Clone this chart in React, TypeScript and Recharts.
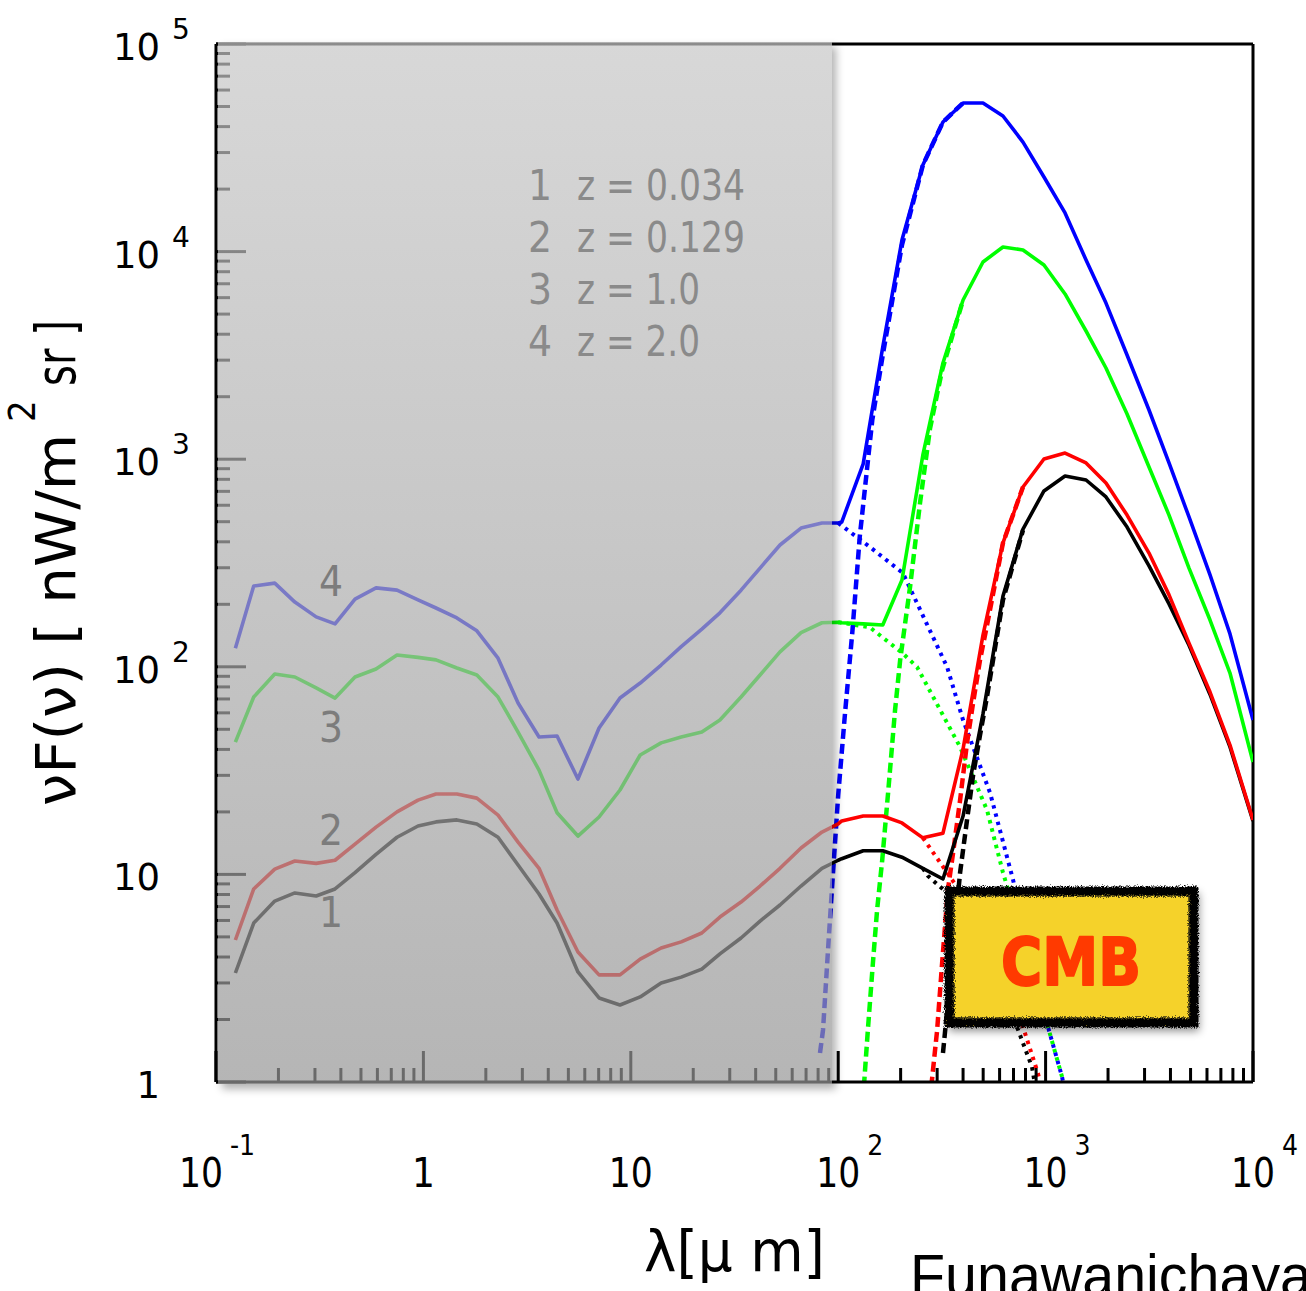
import { Line, LineChart, ReferenceLine, XAxis, YAxis } from "recharts";

// wavelength grids (micron)
const LAMBDA_OPT = [
  0.124, 0.152, 0.192, 0.24, 0.304, 0.375, 0.468, 0.591, 0.746, 0.942, 1.15, 1.45, 1.81, 2.29, 2.86, 3.61,
  4.41, 5.56, 7.03, 8.87, 11.1, 14.0, 17.5, 22.0, 26.9, 34.0, 42.0, 52.4, 66.2, 83.5, 100,
];
const LAMBDA_FIR = [
  104, 132, 164, 203, 256, 320, 400, 499, 623, 778, 982, 1241, 1567, 1955, 2470, 3152, 3936, 4914, 6205, 7745,
  10000,
];

// total EBL, nW/m^2/sr
const Z4_OPT = [
  123, 245, 253, 205, 174, 161, 212, 240, 234, 210, 192, 172, 149, 110, 66.9, 45.9, 46.4, 28.8, 50.7, 70.7, 83.5,
  102, 125, 152, 182, 234, 299, 386, 466, 493, 493,
];
const Z4_FIR = [
  498, 950, 3470, 11370, 26100, 42100, 52000, 52000, 45000, 33700, 22870, 15350, 9110, 5650, 3177, 1726, 959,
  527, 277, 144, 55.4,
];
const Z3_OPT = [
  43.4, 71.5, 92.3, 89.3, 79.1, 70.7, 89.3, 97.6, 114, 111, 108, 98.7, 91.3, 71.5, 48.5, 31.8, 19.8, 15.3, 18.9,
  25.5, 37.6, 43.0, 45.9, 48.5, 55.4, 71.5, 91.3, 118, 146, 163, 164,
];
const Z3_FIR = [
  163, 161, 159, 262, 1048, 2907, 5847, 8910, 10530, 10180, 8620, 6250, 4145, 2750, 1651, 917, 538, 299, 168,
  93.3, 34.8,
];
const Z2_OPT = [
  4.83, 8.51, 10.6, 11.6, 11.3, 11.7, 14.0, 16.9, 20.0, 22.8, 24.4, 24.4, 23.3, 19.3, 14.3, 10.7, 6.74, 4.23,
  3.28, 3.28, 3.91, 4.42, 4.73, 5.22, 6.23, 7.36, 8.79, 10.7, 13.4, 16.0, 17.5,
];
const Z2_FIR = [
  18.1, 19.1, 19.1, 17.7, 15.0, 15.8, 40.2, 142, 395, 735, 1002, 1071, 959, 768, 538, 353, 222, 130, 75.6, 42.0,
  18.3,
];
const Z1_OPT = [
  3.35, 5.83, 7.44, 8.14, 7.87, 8.51, 10.2, 12.5, 15.1, 17.1, 17.9, 18.3, 17.5, 15.1, 11.1, 8.05, 5.83, 3.39,
  2.54, 2.35, 2.57, 3.0, 3.2, 3.5, 4.14, 4.94, 5.96, 7.12, 8.79, 10.7, 11.7,
];
const Z1_FIR = [
  11.9, 13.0, 13.0, 12.1, 10.7, 9.5, 19.1, 59.3, 219, 461, 703, 830, 794, 658, 471, 306, 201, 127, 73.6, 41.1,
  18.1,
];

// dust component (dashed)
const DUST_Z4_LAMBDA = [81.7, 84.5, 89.3, 94.4, 100, 108, 117, 127, 146, 164, 203, 256, 320, 400];
const DUST_Z4 = [1.38, 1.78, 4.32, 10.2, 24.1, 60.6, 147, 422, 1545, 3177, 10760, 26100, 42100, 52000];
const DUST_Z3_LAMBDA = [133, 139, 147, 154, 163, 174, 188, 199, 222, 248, 277, 317, 400];
const DUST_Z3 = [0.95, 1.78, 3.74, 6.74, 11.7, 24.7, 61.9, 108, 242, 615, 1400, 2690, 5847];
const DUST_Z2_LAMBDA = [281, 300, 317, 338, 358, 387, 418, 447, 483, 522, 623, 778];
const DUST_Z2 = [0.95, 1.78, 3.74, 8.41, 12.7, 22.8, 43.0, 66.9, 108, 159, 395, 735];
const DUST_Z1_LAMBDA = [320, 327, 387, 418, 447, 483, 522, 623, 778];
const DUST_Z1 = [1.38, 1.72, 10.2, 18.3, 30, 47, 72, 210, 455];

// stellar component (dotted)
const STARS_Z4_LAMBDA = [100, 142, 205, 262, 335, 400, 540, 697, 841, 1027, 1200, 1240];
const STARS_Z4 = [493, 378, 283, 168, 99.8, 55.4, 24.7, 9.4, 4.28, 1.84, 1.06, 0.9];
const STARS_Z3_LAMBDA = [100, 142, 205, 240, 387, 522, 623, 796, 1027, 1200, 1240];
const STARS_Z3 = [164, 155, 116, 99.8, 41.1, 20.4, 10.2, 4.5, 1.84, 1.06, 0.9];
const STARS_Z2_LAMBDA = [256, 320, 374, 500, 640, 778, 919, 960];
const STARS_Z2 = [15.0, 10.9, 8.7, 5.3, 3.2, 1.84, 1.1, 0.9];
const STARS_Z1_LAMBDA = [256, 271, 335, 480, 620, 728, 860, 900];
const STARS_Z1 = [10.7, 9.82, 8.14, 4.8, 2.8, 1.84, 1.18, 0.9];

const CURVE_IDS = ["1", "2", "3", "4"];
const REDSHIFTS = ["z = 0.034", "z = 0.129", "z = 1.0", "z = 2.0"];

const X_MAJOR = [0.1, 1, 10, 100, 1000, 10000];
const Y_MAJOR = [1, 10, 100, 1000, 10000, 100000];

const withMinors = (majors: number[]) => {
  const out: number[] = [];
  majors.forEach((m, i) => {
    out.push(m);
    if (i < majors.length - 1) for (let k = 2; k <= 9; k++) out.push(+(m * k).toPrecision(6));
  });
  return out;
};
const X_TICKS = withMinors(X_MAJOR);
const Y_TICKS = withMinors(Y_MAJOR);

const pts = (xs: number[], ys: number[]) => xs.map((lambda, i) => ({ lambda, v: ys[i] }));

const BLUE = "#0000ff";
const GREEN = "#00ff00";
const RED = "#ff0000";
const BLACK = "#000000";

const NARROW = "'Liberation Sans Narrow', 'DejaVu Sans Condensed', 'Roboto Condensed', sans-serif";
const PLOT_LEFT = 216;
const PLOT_BOTTOM = 1082;

const isMajor = (v: number) => Math.abs(Math.log10(v) - Math.round(Math.log10(v))) < 1e-6;

function XTick(props: any) {
  const { x, payload } = props;
  const v = payload.value as number;
  const major = isMajor(v);
  const exp = Math.round(Math.log10(v));
  const cx = exp === -1 ? x - 15 : x;
  return (
    <g>
      <line x1={x} x2={x} y1={PLOT_BOTTOM} y2={PLOT_BOTTOM - (major ? 31 : 14)} stroke="#000" strokeWidth={3} />
      {major && (
        <g fontFamily={NARROW} fill="#000">
          {exp === 0 ? (
            <text x={cx} y={1187} fontSize={40} textAnchor="middle">1</text>
          ) : (
            <text x={cx} y={1187} fontSize={40} textAnchor="middle" textLength={44} lengthAdjust="spacingAndGlyphs">
              10
            </text>
          )}
          {exp !== 0 && exp !== 1 && (
            <text x={cx + 29} y={1155} fontSize={28}>
              {String(exp)}
            </text>
          )}
        </g>
      )}
    </g>
  );
}

function YTick(props: any) {
  const { y, payload } = props;
  const v = payload.value as number;
  const major = isMajor(v);
  const exp = Math.round(Math.log10(v));
  return (
    <g>
      <line x1={PLOT_LEFT} x2={PLOT_LEFT + (major ? 30 : 14)} y1={y} y2={y} stroke="#000" strokeWidth={3} />
      {major && (
        <g fontFamily="'DejaVu Sans', sans-serif" fill="#000">
          <text x={160} y={y + 16} fontSize={37} textAnchor="end">
            {exp === 0 ? "1" : "10"}
          </text>
          {exp >= 2 && (
            <text x={172} y={y - 5} fontSize={28}>
              {String(exp)}
            </text>
          )}
        </g>
      )}
    </g>
  );
}

const solidSeries = [
  { id: "z1", color: BLACK, data: pts([...LAMBDA_OPT, ...LAMBDA_FIR], [...Z1_OPT, ...Z1_FIR]) },
  { id: "z2", color: RED, data: pts([...LAMBDA_OPT, ...LAMBDA_FIR], [...Z2_OPT, ...Z2_FIR]) },
  { id: "z3", color: GREEN, data: pts([...LAMBDA_OPT, ...LAMBDA_FIR], [...Z3_OPT, ...Z3_FIR]) },
  { id: "z4", color: BLUE, data: pts([...LAMBDA_OPT, ...LAMBDA_FIR], [...Z4_OPT, ...Z4_FIR]) },
];
const dustSeries = [
  { id: "d1", color: BLACK, data: pts(DUST_Z1_LAMBDA, DUST_Z1) },
  { id: "d2", color: RED, data: pts(DUST_Z2_LAMBDA, DUST_Z2) },
  { id: "d3", color: GREEN, data: pts(DUST_Z3_LAMBDA, DUST_Z3) },
  { id: "d4", color: BLUE, data: pts(DUST_Z4_LAMBDA, DUST_Z4) },
];
const starSeries = [
  { id: "s1", color: BLACK, data: pts(STARS_Z1_LAMBDA, STARS_Z1) },
  { id: "s2", color: RED, data: pts(STARS_Z2_LAMBDA, STARS_Z2) },
  { id: "s3", color: GREEN, data: pts(STARS_Z3_LAMBDA, STARS_Z3) },
  { id: "s4", color: BLUE, data: pts(STARS_Z4_LAMBDA, STARS_Z4) },
];

const CURVE_LABEL_Y = [927, 845, 742, 596];

export default function App() {
  return (
    <div style={{ position: "absolute", left: 0, top: 0, width: 1306, height: 1291, overflow: "hidden", background: "#fff" }}>
      <LineChart width={1306} height={1291} margin={{ top: 44, right: 53, bottom: 0, left: 0 }}>
        <XAxis
          dataKey="lambda"
          type="number"
          scale="log"
          domain={[0.1, 10000]}
          allowDataOverflow
          ticks={X_TICKS}
          interval={0}
          height={209}
          axisLine={{ stroke: "#000", strokeWidth: 3 }}
          tickLine={false}
          tick={XTick}
        />
        <YAxis
          type="number"
          scale="log"
          domain={[1, 100000]}
          allowDataOverflow
          ticks={Y_TICKS}
          interval={0}
          width={216}
          axisLine={{ stroke: "#000", strokeWidth: 3 }}
          tickLine={false}
          tick={YTick}
        />
        <ReferenceLine y={100000} stroke="#000" strokeWidth={3} />
        <ReferenceLine x={10000} stroke="#000" strokeWidth={3} />
        {starSeries.map((s) => (
          <Line
            key={s.id}
            data={s.data}
            dataKey="v"
            type="linear"
            stroke={s.color}
            strokeWidth={4}
            strokeDasharray="3.5 5"
            dot={false}
            activeDot={false}
            isAnimationActive={false}
          />
        ))}
        {dustSeries.map((s) => (
          <Line
            key={s.id}
            data={s.data}
            dataKey="v"
            type="linear"
            stroke={s.color}
            strokeWidth={4.5}
            strokeDasharray="10 5"
            dot={false}
            activeDot={false}
            isAnimationActive={false}
          />
        ))}
        {solidSeries.map((s) => (
          <Line
            key={s.id}
            data={s.data}
            dataKey="v"
            type="linear"
            stroke={s.color}
            strokeWidth={3.6}
            strokeLinejoin="round"
            dot={false}
            activeDot={false}
            isAnimationActive={false}
          />
        ))}
      </LineChart>

      {/* shaded band over the optical/NIR region */}
      <div
        style={{
          position: "absolute",
          left: 218,
          top: 42,
          width: 614,
          height: 1042,
          background: "linear-gradient(to bottom, rgba(199,199,199,0.7), rgba(150,150,150,0.7))",
          boxShadow: "4px 5px 8px rgba(0,0,0,0.3)",
        }}
      />

      <svg
        width={1306}
        height={1291}
        style={{ position: "absolute", left: 0, top: 0, pointerEvents: "none", overflow: "hidden" }}
      >
        <defs>
          <filter id="cmbShadow" x="-10%" y="-10%" width="130%" height="140%">
            <feDropShadow dx="3" dy="5" stdDeviation="4" floodColor="#000" floodOpacity="0.45" />
          </filter>
          <filter id="chalk" x="-5%" y="-8%" width="110%" height="116%">
            <feTurbulence type="fractalNoise" baseFrequency="0.9" numOctaves="2" seed="7" result="noise" />
            <feDisplacementMap in="SourceGraphic" in2="noise" scale="6" xChannelSelector="R" yChannelSelector="G" />
          </filter>
        </defs>

        {/* legend */}
        <g fontFamily={NARROW} fontSize={42} fill="#8a8a8a">
          {REDSHIFTS.map((z, i) => (
            <g key={z}>
              <text x={528} y={200 + i * 52}>{CURVE_IDS[i]}</text>
              <text x={577} y={200 + i * 52} textLength={i < 2 ? 168 : 123} lengthAdjust="spacingAndGlyphs">
                {z}
              </text>
            </g>
          ))}
        </g>

        {/* curve numbers */}
        <g fontFamily={NARROW} fontSize={42} fill="#7c7c7c" textAnchor="middle">
          {CURVE_IDS.map((c, i) => (
            <text key={c} x={331} y={CURVE_LABEL_Y[i]}>
              {c}
            </text>
          ))}
        </g>

        {/* y title */}
        <g transform="translate(75,806) rotate(-90)" fontFamily={NARROW} fill="#000">
          <text x={0} y={0} fontSize={55} textLength={372} lengthAdjust="spacingAndGlyphs">
            νF(ν) [ nW/m
          </text>
          <text x={384} y={-40} fontSize={38}>
            2
          </text>
          <text x={420} y={0} fontSize={55} textLength={66} lengthAdjust="spacingAndGlyphs">
            sr ]
          </text>
        </g>

        {/* x title */}
        <text x={644} y={1271} fontFamily={NARROW} fontSize={57} textLength={181} lengthAdjust="spacingAndGlyphs">
          λ[μ m]
        </text>

        <text
          x={910}
          y={1296}
          fontFamily="'Liberation Sans', 'Open Sans', sans-serif"
          fontSize={60}
          textLength={402}
          lengthAdjust="spacingAndGlyphs"
        >
          Funawanichaya
        </text>

        {/* CMB tag */}
        <rect x={946} y={888} width={250} height={138} fill="#f5d22b" filter="url(#cmbShadow)" />
        <rect x={949} y={891} width={245} height={132} fill="none" stroke="#000" strokeWidth={9} filter="url(#chalk)" />
        <rect
          x={954}
          y={896}
          width={235}
          height={122}
          fill="none"
          stroke="#111"
          strokeWidth={2}
          opacity={0.6}
          filter="url(#chalk)"
        />
        <text
          x={1001}
          y={985}
          fontFamily="'DejaVu Sans', sans-serif"
          fontWeight="bold"
          fontSize={66}
          fill="#ff3a00"
          stroke="#ff3a00"
          strokeWidth={2}
          strokeLinejoin="round"
          textLength={140}
          lengthAdjust="spacingAndGlyphs"
        >
          CMB
        </text>
      </svg>
    </div>
  );
}
